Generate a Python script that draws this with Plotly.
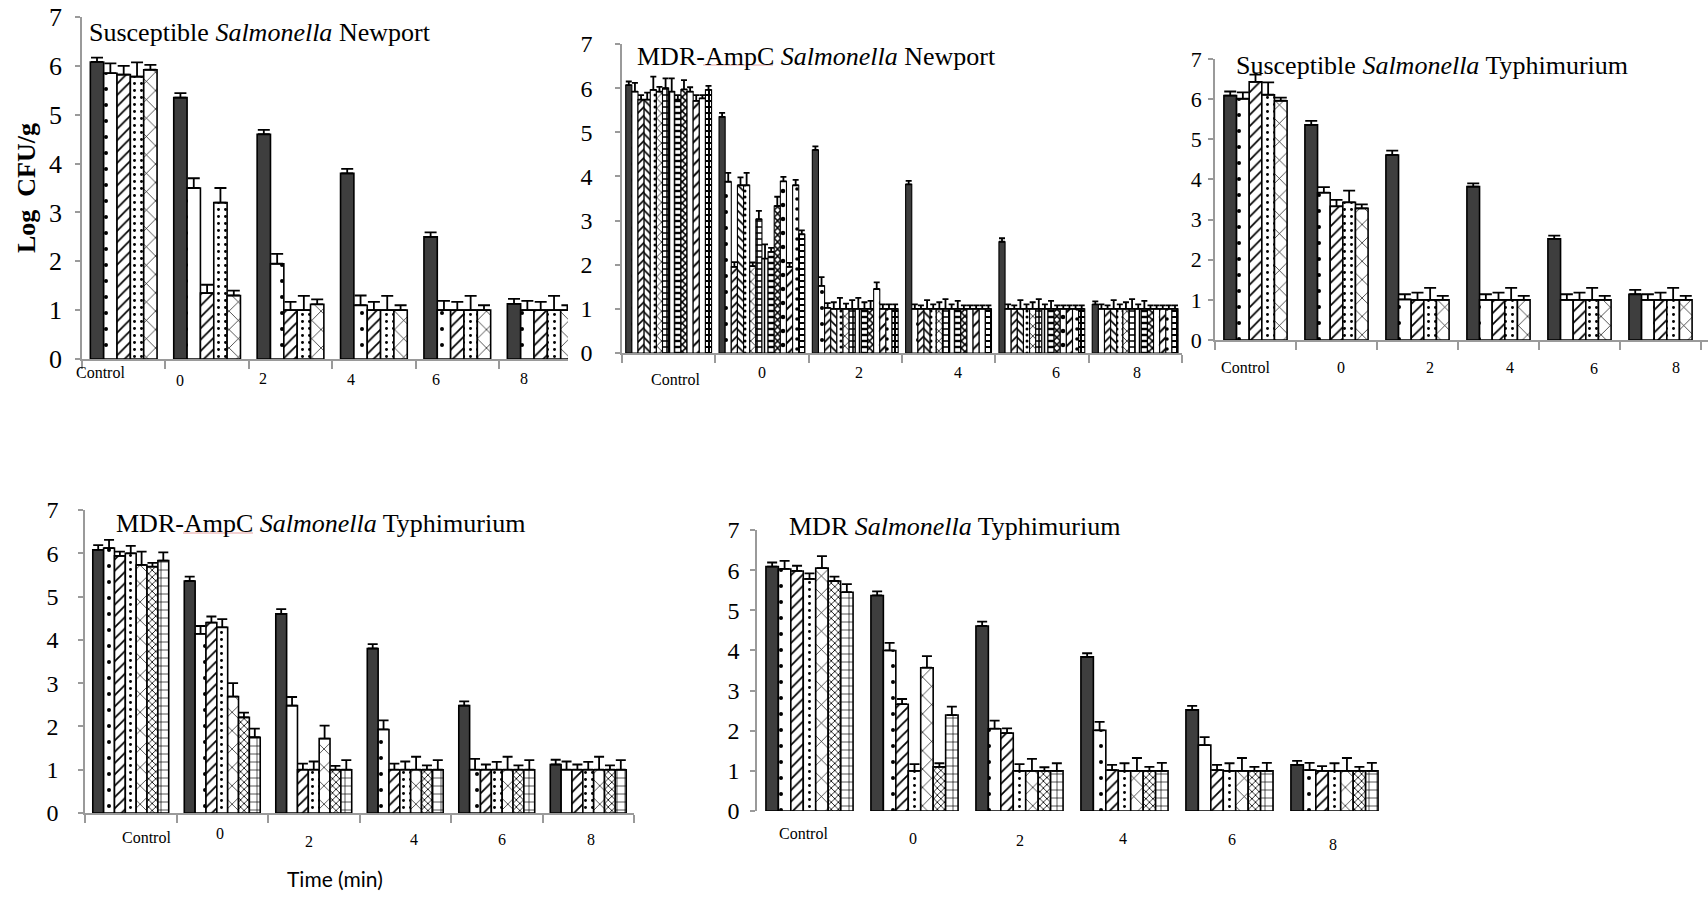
import plotly.graph_objects as go

FIG_W, FIG_H = 1708, 898
GROUPS = ["Control", "0", "2", "4", "6", "8"]

# ---- Susceptible Salmonella Newport (5 treatments) ----
sus_newport_mean = [
    [6.08, 5.35, 4.60, 3.80, 2.50, 1.13],
    [5.85, 3.50, 1.95, 1.10, 1.00, 1.00],
    [5.82, 1.35, 1.00, 1.00, 1.00, 1.00],
    [5.78, 3.20, 1.00, 1.00, 1.00, 1.00],
    [5.92, 1.30, 1.12, 1.00, 1.00, 1.00],
]
sus_newport_sd = [
    [0.09, 0.09, 0.09, 0.09, 0.09, 0.10],
    [0.20, 0.20, 0.20, 0.20, 0.19, 0.19],
    [0.18, 0.17, 0.17, 0.17, 0.17, 0.17],
    [0.29, 0.30, 0.29, 0.29, 0.29, 0.29],
    [0.10, 0.10, 0.10, 0.10, 0.10, 0.10],
]

# ---- MDR-AmpC Salmonella Newport (14 treatments) ----
ampc_newport_mean = [
    [6.07, 5.35, 4.60, 3.82, 2.52, 1.10],
    [5.92, 3.88, 1.52, 1.00, 1.00, 1.00],
    [5.74, 1.95, 1.02, 1.00, 1.00, 1.00],
    [5.74, 3.80, 1.00, 1.00, 1.00, 1.00],
    [5.96, 3.80, 1.00, 1.00, 1.00, 1.00],
    [5.92, 1.97, 1.00, 1.00, 1.00, 1.00],
    [6.00, 3.03, 1.00, 1.00, 1.00, 1.00],
    [5.92, 2.14, 1.00, 1.00, 1.00, 1.00],
    [5.74, 2.29, 1.00, 1.00, 1.00, 1.00],
    [5.97, 3.33, 1.00, 1.00, 1.00, 1.00],
    [5.92, 3.89, 1.45, 1.00, 1.00, 1.00],
    [5.71, 1.95, 1.00, 1.00, 1.00, 1.00],
    [5.77, 3.80, 1.00, 1.00, 1.00, 1.00],
    [5.96, 2.69, 1.00, 1.00, 1.00, 1.00],
]
ampc_newport_sd = [
    [0.08, 0.09, 0.08, 0.08, 0.08, 0.07],
    [0.20, 0.20, 0.20, 0.10, 0.10, 0.10],
    [0.10, 0.11, 0.11, 0.08, 0.08, 0.08],
    [0.16, 0.18, 0.15, 0.20, 0.20, 0.20],
    [0.30, 0.28, 0.25, 0.10, 0.10, 0.10],
    [0.11, 0.08, 0.12, 0.15, 0.15, 0.15],
    [0.22, 0.19, 0.20, 0.22, 0.22, 0.22],
    [0.30, 0.32, 0.25, 0.10, 0.10, 0.10],
    [0.10, 0.09, 0.15, 0.18, 0.18, 0.18],
    [0.21, 0.21, 0.18, 0.08, 0.08, 0.08],
    [0.10, 0.10, 0.15, 0.08, 0.08, 0.08],
    [0.13, 0.09, 0.10, 0.08, 0.08, 0.08],
    [0.07, 0.12, 0.10, 0.08, 0.08, 0.08],
    [0.09, 0.09, 0.10, 0.08, 0.08, 0.08],
]

# ---- Susceptible Salmonella Typhimurium (5 treatments) ----
sus_typhi_mean = [
    [6.09, 5.36, 4.61, 3.82, 2.52, 1.14],
    [6.01, 3.67, 1.01, 1.00, 1.00, 1.00],
    [6.43, 3.33, 1.00, 1.00, 1.00, 1.00],
    [6.11, 3.43, 1.00, 1.00, 1.00, 1.00],
    [5.96, 3.28, 1.00, 1.00, 1.00, 1.00],
]
sus_typhi_sd = [
    [0.10, 0.10, 0.11, 0.08, 0.08, 0.11],
    [0.16, 0.14, 0.13, 0.14, 0.14, 0.14],
    [0.18, 0.16, 0.18, 0.18, 0.18, 0.18],
    [0.31, 0.29, 0.30, 0.30, 0.30, 0.30],
    [0.08, 0.10, 0.10, 0.10, 0.10, 0.10],
]

# ---- MDR-AmpC Salmonella Typhimurium (7 treatments) ----
ampc_typhi_mean = [
    [6.08, 5.36, 4.60, 3.80, 2.48, 1.12],
    [6.12, 4.14, 2.48, 1.93, 1.00, 1.00],
    [5.94, 4.40, 1.00, 1.00, 1.00, 1.00],
    [6.00, 4.29, 1.00, 1.00, 1.00, 1.00],
    [5.73, 2.69, 1.72, 1.00, 1.00, 1.00],
    [5.69, 2.21, 1.00, 1.00, 1.00, 1.00],
    [5.83, 1.75, 1.00, 1.00, 1.00, 1.00],
]
ampc_typhi_sd = [
    [0.11, 0.10, 0.11, 0.10, 0.10, 0.11],
    [0.19, 0.18, 0.20, 0.21, 0.25, 0.19],
    [0.10, 0.14, 0.14, 0.14, 0.12, 0.12],
    [0.17, 0.19, 0.19, 0.19, 0.18, 0.18],
    [0.31, 0.31, 0.30, 0.30, 0.30, 0.30],
    [0.09, 0.11, 0.09, 0.10, 0.10, 0.10],
    [0.19, 0.20, 0.22, 0.22, 0.22, 0.22],
]

# ---- MDR Salmonella Typhimurium (7 treatments) ----
mdr_typhi_mean = [
    [6.09, 5.37, 4.61, 3.84, 2.52, 1.15],
    [6.03, 4.00, 2.05, 2.01, 1.64, 1.02],
    [5.98, 2.66, 1.94, 1.02, 1.02, 1.00],
    [5.78, 1.00, 1.00, 1.00, 1.00, 1.00],
    [6.05, 3.57, 1.00, 1.00, 1.00, 1.00],
    [5.73, 1.10, 1.00, 1.00, 1.00, 1.00],
    [5.45, 2.39, 1.00, 1.00, 1.00, 1.00],
]
mdr_typhi_sd = [
    [0.10, 0.10, 0.11, 0.09, 0.10, 0.10],
    [0.20, 0.19, 0.20, 0.21, 0.20, 0.18],
    [0.13, 0.13, 0.12, 0.13, 0.13, 0.12],
    [0.14, 0.17, 0.17, 0.19, 0.19, 0.19],
    [0.30, 0.29, 0.30, 0.32, 0.32, 0.32],
    [0.11, 0.09, 0.09, 0.10, 0.10, 0.10],
    [0.20, 0.21, 0.19, 0.20, 0.20, 0.20],
]

# ---- fill styles ----
DARK = "#3e3e3e"
AXIS_GRAY = "#9a9a9a"
SERIF = "Liberation Serif, Times New Roman, serif"


def pat(shape, size, solidity):
    return dict(shape=shape, size=size, solidity=solidity,
                fgcolor="black", bgcolor="white", fillmode="replace")


SOLID = None
SPARSE_DOTS = pat(".", 16, 0.05)
WAVE = pat("/", 8, 0.22)
DOT_COLUMNS = pat(".", 7, 0.14)
BIG_CROSS = pat("x", 13, 0.1)
SMALL_CROSS = pat("x", 5, 0.3)
BRICK = pat("+", 8, 0.16)

styles_5 = [SOLID, SPARSE_DOTS, WAVE, DOT_COLUMNS, BIG_CROSS]
styles_7 = [SOLID, SPARSE_DOTS, WAVE, DOT_COLUMNS, BIG_CROSS, SMALL_CROSS, BRICK]
styles_14 = [
    SOLID, SPARSE_DOTS, pat("/", 6, 0.28), pat("\\", 6, 0.28), pat(".", 6, 0.2),
    pat("x", 7, 0.2), pat("+", 6, 0.45), pat("|", 5, 0.3), pat("-", 6, 0.4),
    pat("x", 5, 0.5), pat(".", 14, 0.08), pat("/", 8, 0.25), pat(".", 10, 0.1),
    pat("+", 6, 0.55),
]

# each panel: plot box in px (left, top, right, bottom), px per group,
# bar cluster width (in group units), and label placements in px
panels = [
    dict(mean=sus_newport_mean, sd=sus_newport_sd, styles=styles_5,
         box=(82, 17, 568, 359), group_px=83.4, span=0.80, edge=1.6, cap=6,
         tick_size=26, standoff=8, xline=True,
         title="Susceptible <i>Salmonella</i> Newport", title_xy=(87, 32),
         labels=[(100, 372), (180, 380), (263, 378), (351, 379), (436, 379), (524, 378)]),
    dict(mean=ampc_newport_mean, sd=ampc_newport_sd, styles=styles_14,
         box=(622, 44, 1182, 353), group_px=93.3, span=0.92, edge=1.1, cap=3,
         tick_size=24, standoff=18, xline=True,
         title="MDR-AmpC <i>Salmonella</i> Newport", title_xy=(635, 56),
         labels=[(675, 379), (762, 372), (859, 373), (958, 373), (1056, 373), (1137, 373)]),
    dict(mean=sus_typhi_mean, sd=sus_typhi_sd, styles=styles_5,
         box=(1215, 59, 1708, 340), group_px=81.0, span=0.78, edge=1.6, cap=6,
         tick_size=22, standoff=2, xline=True,
         title="Susceptible <i>Salmonella</i> Typhimurium", title_xy=(1234, 65),
         labels=[(1245, 367), (1341, 367), (1430, 367), (1510, 367), (1594, 368), (1676, 367)]),
    dict(mean=ampc_typhi_mean, sd=ampc_typhi_sd, styles=styles_7,
         box=(85, 510, 634, 813), group_px=91.5, span=0.83, edge=1.6, cap=5,
         tick_size=24, standoff=15, xline=True,
         title="MDR-AmpC <i>Salmonella</i> Typhimurium", title_xy=(114, 523),
         labels=[(146, 837), (220, 833), (309, 841), (414, 839), (502, 839), (591, 839)]),
    dict(mean=mdr_typhi_mean, sd=mdr_typhi_sd, styles=styles_7,
         box=(757, 530, 1387, 811), group_px=105.0, span=0.83, edge=1.6, cap=5,
         tick_size=24, standoff=6, xline=False,
         title="MDR <i>Salmonella</i> Typhimurium", title_xy=(787, 526),
         labels=[(803, 833), (913, 838), (1020, 840), (1123, 838), (1232, 839), (1333, 844)]),
]


def px_x(x):
    return x / FIG_W


def px_y(y):
    return 1 - y / FIG_H


fig = go.Figure()
annotations = []
layout_axes = {}

for k, P in enumerate(panels):
    suffix = "" if k == 0 else str(k + 1)
    xa, ya = "x" + suffix, "y" + suffix
    n = len(P["mean"])
    w = P["span"] / n
    xs = list(range(len(GROUPS)))
    for s in range(n):
        style = P["styles"][s]
        marker = dict(color=DARK if style is None else "white",
                      line=dict(color="black", width=P["edge"]))
        if style is not None:
            marker["pattern"] = style
        fig.add_trace(go.Bar(
            x=xs, y=P["mean"][s], width=w, offset=-P["span"] / 2 + s * w,
            marker=marker,
            error_y=dict(type="data", array=P["sd"][s], arrayminus=[0] * len(xs),
                         symmetric=False, color="black", thickness=1.8, width=P["cap"]),
            xaxis=xa, yaxis=ya, showlegend=False, hoverinfo="y",
        ))

    left, top, right, bottom = P["box"]
    x_end = -0.5 + (right - left) / P["group_px"]
    layout_axes["xaxis" + suffix] = dict(
        domain=[px_x(left), px_x(right)], range=[-0.5, x_end], anchor=ya,
        automargin=False,
        showline=P["xline"], linecolor=AXIS_GRAY, linewidth=1.5,
        ticks="outside" if P["xline"] else "", tick0=-0.5, dtick=1,
        ticklen=8, tickwidth=1.5, tickcolor=AXIS_GRAY,
        showticklabels=False, showgrid=False, zeroline=False,
    )
    layout_axes["yaxis" + suffix] = dict(
        domain=[px_y(bottom), px_y(top)], range=[0, 7], anchor=xa,
        automargin=False,
        dtick=1, ticks="outside", ticklen=5, tickwidth=1.5, tickcolor=AXIS_GRAY,
        showline=True, linecolor=AXIS_GRAY, linewidth=1.5,
        showgrid=False, zeroline=False, ticklabelstandoff=P["standoff"],
        tickfont=dict(family=SERIF, size=P["tick_size"], color="black"),
    )

    tx, ty = P["title_xy"]
    annotations.append(dict(
        text=P["title"], x=px_x(tx), y=px_y(ty), xref="paper", yref="paper",
        xanchor="left", yanchor="middle", showarrow=False,
        font=dict(family=SERIF, size=26, color="black"),
    ))
    for name, (lx, ly) in zip(GROUPS, P["labels"]):
        annotations.append(dict(
            text=name, x=px_x(lx), y=px_y(ly), xref="paper", yref="paper",
            xanchor="center", yanchor="middle", showarrow=False,
            font=dict(family=SERIF, size=16, color="black"),
        ))

annotations.append(dict(
    text="<b>Log  CFU/g</b>", x=px_x(26), y=px_y(188), xref="paper", yref="paper",
    textangle=-90, xanchor="center", yanchor="middle", showarrow=False,
    font=dict(family=SERIF, size=26, color="black"),
))
annotations.append(dict(
    text="Time (min)", x=px_x(335), y=px_y(878), xref="paper", yref="paper",
    xanchor="center", yanchor="middle", showarrow=False,
    font=dict(family="Lato, Open Sans, sans-serif", size=21, color="black"),
))

# spell-check squiggle under "AmpC"
shapes = [
    dict(type="line", xref="paper", yref="paper", x0=px_x(703), x1=px_x(773),
         y0=px_y(65), y1=px_y(65), line=dict(color="#e9a3a3", width=1)),
    dict(type="line", xref="paper", yref="paper", x0=px_x(183), x1=px_x(253),
         y0=px_y(533), y1=px_y(533), line=dict(color="#e9a3a3", width=1)),
]

fig.update_layout(
    width=FIG_W, height=FIG_H, autosize=False,
    margin=dict(l=0, r=0, t=0, b=0),
    paper_bgcolor="white", plot_bgcolor="white",
    barmode="overlay", annotations=annotations, shapes=shapes,
    **layout_axes,
)

fig.write_html("out.html")
